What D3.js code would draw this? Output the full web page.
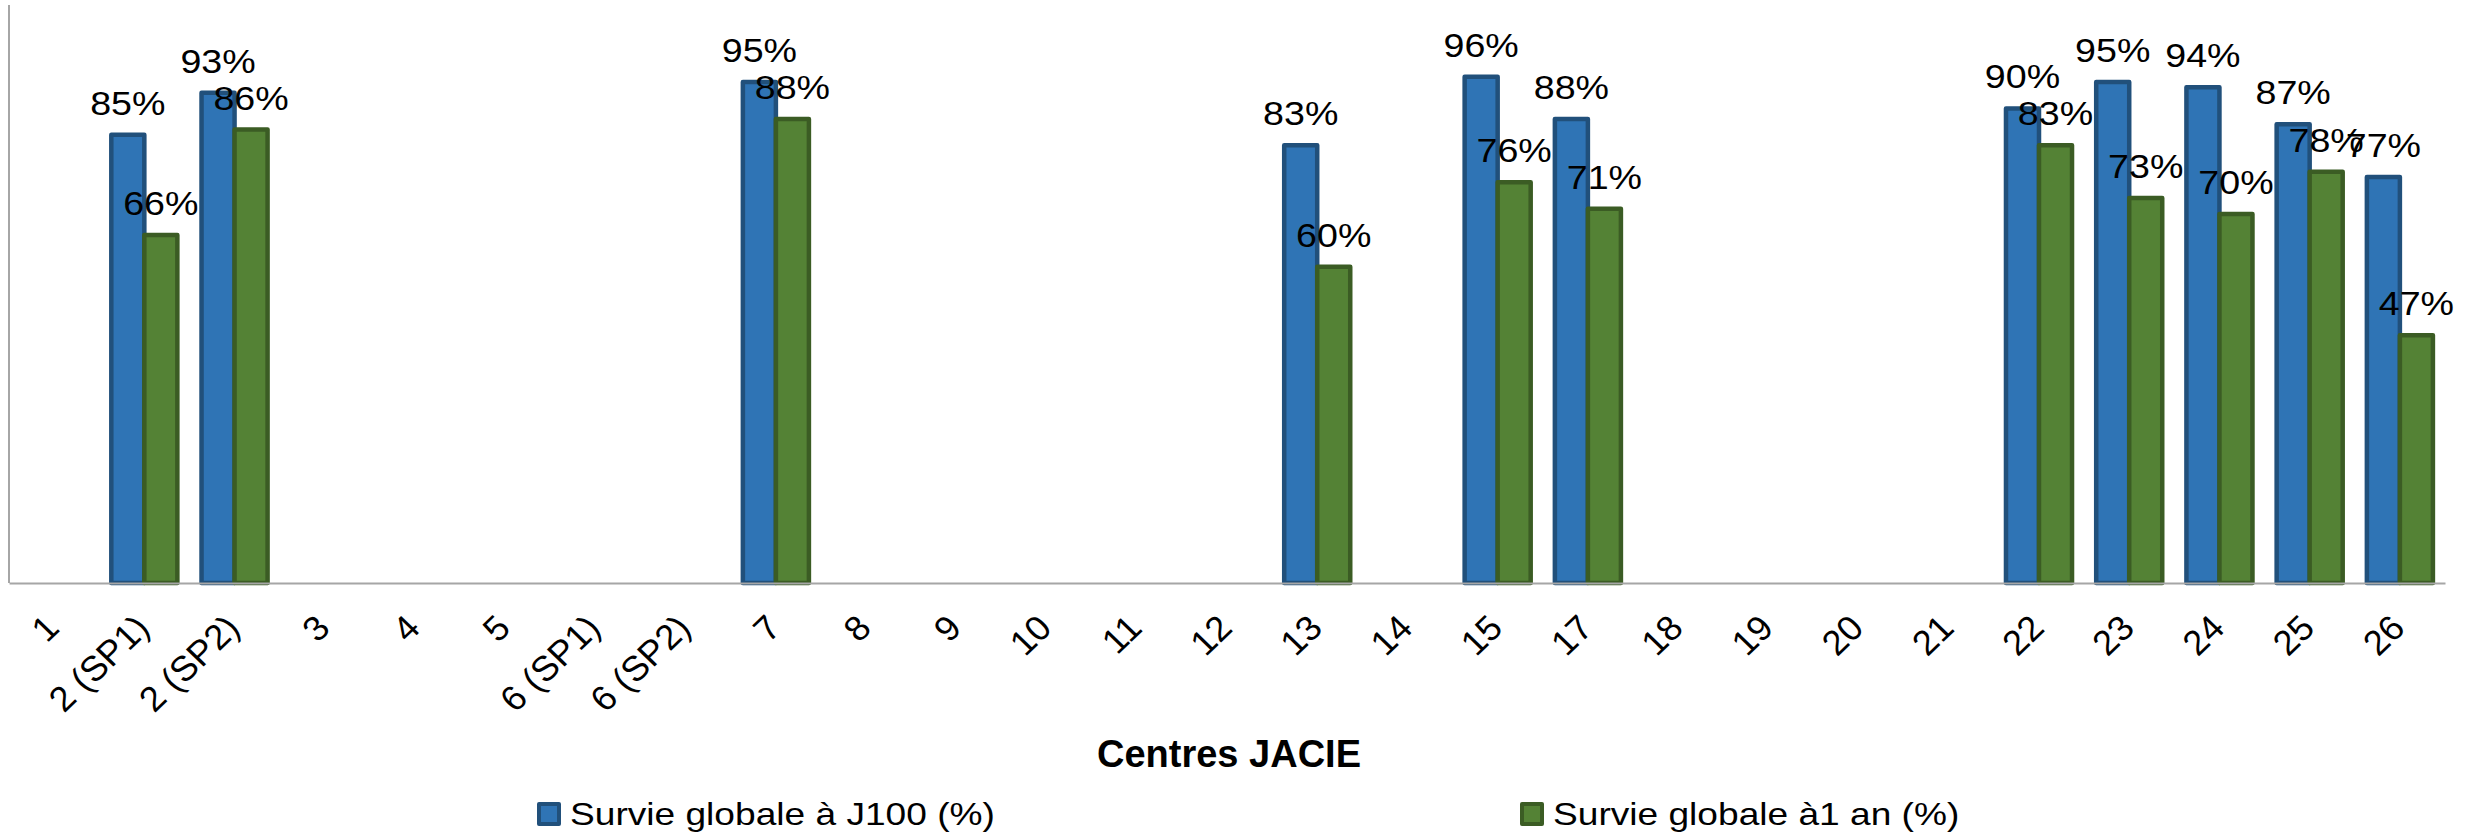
<!DOCTYPE html>
<html>
<head>
<meta charset="utf-8">
<script src="https://cdn.jsdelivr.net/npm/d3@7"></script>
<style>
  html, body { margin: 0; padding: 0; background: #fff; }
  svg { display: block; }
  text { font-family: "Liberation Sans", Arial, sans-serif; fill: #000; }
</style>
</head>
<body>
<svg id="chart" width="2473" height="832"></svg>
<script>
const categories = ["1","2 (SP1)","2 (SP2)","3","4","5","6 (SP1)","6 (SP2)","7","8","9","10","11","12","13","14","15","17","18","19","20","21","22","23","24","25","26"];
const survieJ100 = [null,0.85,0.93,null,null,null,null,null,0.95,null,null,null,null,null,0.83,null,0.96,0.88,null,null,null,null,0.90,0.95,0.94,0.87,0.77];
const survie1an  = [null,0.66,0.86,null,null,null,null,null,0.88,null,null,null,null,null,0.60,null,0.76,0.71,null,null,null,null,0.83,0.73,0.70,0.78,0.47];
const seriesNames = ["Survie globale à J100 (%)", "Survie globale à1 an (%)"];
const xTitle = "Centres JACIE";

const fills = ["#2f74b5", "#548235"];
const strokes = ["#21507b", "#3b5c24"];

const svg = d3.select("#chart");
const mLeft = 9, mRight = 2445, mTop = 3, mBottom = 583;

const x0 = d3.scaleBand().domain(categories).range([mLeft, mRight]).paddingInner(0.268).paddingOuter(0.134);
const x1 = d3.scaleBand().domain([0, 1]).range([0, x0.bandwidth()]);
const y = d3.scaleLinear().domain([0, 1.1]).range([mBottom, mTop]);

svg.append("line").attr("x1", mLeft).attr("x2", mLeft).attr("y1", mTop + 2).attr("y2", mBottom)
  .attr("stroke", "#a6a6a6").attr("stroke-width", 2);

const data = categories.map((c, i) => ({ cat: c, vals: [survieJ100[i], survie1an[i]] }));

const groups = svg.append("g").selectAll("g").data(data).join("g")
  .attr("transform", d => `translate(${x0(d.cat)},0)`);

groups.selectAll("rect").data(d => d.vals.map((v, k) => ({ v, k })).filter(e => e.v != null))
  .join("rect")
  .attr("x", e => x1(e.k))
  .attr("width", x1.bandwidth())
  .attr("y", e => y(e.v))
  .attr("height", e => y(0) - y(e.v))
  .attr("fill", e => fills[e.k])
  .attr("stroke", e => strokes[e.k])
  .attr("stroke-width", 4.5)
  .attr("stroke-linejoin", "round");

const xAxis = d3.axisBottom(x0).tickSize(0).tickPadding(0);
const ax = svg.append("g").attr("transform", `translate(0,${mBottom})`).call(xAxis);
ax.select(".domain").attr("stroke", "#a6a6a6").attr("stroke-width", 2);
ax.selectAll(".tick text")
  .attr("x", 0).attr("y", 0).attr("dy", 0)
  .attr("text-anchor", "end")
  .style("font-size", "35px")
  .style("font-family", "'Liberation Sans', Arial, sans-serif")
  .attr("fill", "#000")
  .attr("transform", `translate(7,47) scale(1.04,1) rotate(-45)`);

groups.selectAll("text.val").data(d => d.vals.map((v, k) => ({ v, k })).filter(e => e.v != null))
  .join("text")
  .attr("class", "val")
  .attr("text-anchor", "middle")
  .style("font-size", "33px")
  .attr("transform", e => `translate(${x1(e.k) + x1.bandwidth() / 2},${y(e.v) - 20}) scale(1.14,1)`)
  .text(e => Math.round(e.v * 100) + "%");

svg.append("text").attr("x", 1229).attr("y", 767).attr("text-anchor", "middle")
  .style("font-size", "38px").style("font-weight", "bold").text(xTitle);

const legendX = [537, 1520];
const legend = svg.append("g").selectAll("g").data(seriesNames).join("g")
  .attr("transform", (d, i) => `translate(${legendX[i]},0)`);
legend.append("rect").attr("x", 2).attr("y", 804).attr("width", 20).attr("height", 20)
  .attr("fill", (d, i) => fills[i]).attr("stroke", (d, i) => strokes[i]).attr("stroke-width", 4)
  .attr("stroke-linejoin", "round");
legend.append("text")
  .attr("transform", `translate(33,825) scale(1.16,1)`)
  .style("font-size", "32px").text(d => d);
</script>
</body>
</html>
